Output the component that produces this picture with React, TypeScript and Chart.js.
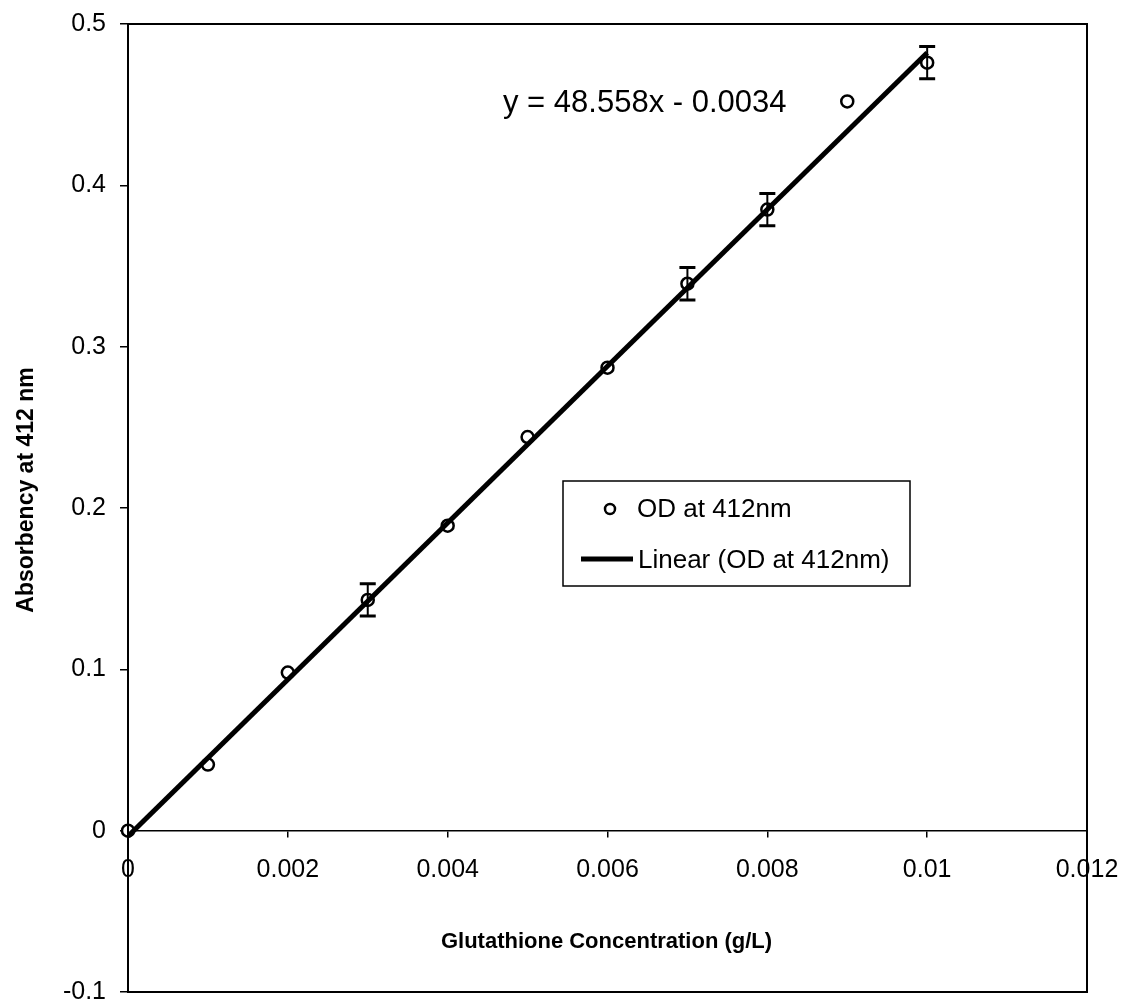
import { useEffect, useRef } from "react";
import { Chart, registerables } from "chart.js";

Chart.register(...registerables);

// Glutathione standard curve (absorbance read at 412 nm)
const concentration = [0, 0.001, 0.002, 0.003, 0.004, 0.005, 0.006, 0.007, 0.008, 0.009, 0.01];
const absorbance = [0, 0.041, 0.098, 0.143, 0.189, 0.244, 0.287, 0.339, 0.385, 0.452, 0.476];
const absorbanceError = [0, 0, 0, 0.01, 0, 0, 0, 0.01, 0.01, 0, 0.01];

// Least-squares fit shown on the chart
const slope = 48.558;
const intercept = -0.0034;
const fitRange = [0, 0.01];

const xTickValues = [0, 0.002, 0.004, 0.006, 0.008, 0.01, 0.012];
const xTickLabels = ["0", "0.002", "0.004", "0.006", "0.008", "0.01", "0.012"];
const yTickValues = [-0.1, 0, 0.1, 0.2, 0.3, 0.4, 0.5];
const yTickLabels = ["-0.1", "0", "0.1", "0.2", "0.3", "0.4", "0.5"];

const seriesLabel = "OD at 412nm";
const fitLabel = "Linear (OD at 412nm)";
const equationText = `y = ${slope}x - ${Math.abs(intercept)}`;
const xTitle = "Glutathione Concentration (g/L)";
const yTitle = "Absorbency at 412 nm";

const FONT = "'Liberation Sans', Arial, Helvetica, sans-serif";

const decorations = {
  id: "decorations",
  afterDatasetsDraw(chart: any) {
    const { ctx, scales } = chart;
    const x = scales.x;
    const y = scales.y;
    ctx.save();
    ctx.strokeStyle = "#000";
    concentration.forEach((c, i) => {
      const e = absorbanceError[i];
      if (!e) return;
      const px = x.getPixelForValue(c);
      const top = y.getPixelForValue(absorbance[i] + e);
      const bot = y.getPixelForValue(absorbance[i] - e);
      ctx.lineWidth = 2;
      ctx.beginPath();
      ctx.moveTo(px, top);
      ctx.lineTo(px, bot);
      ctx.stroke();
      ctx.lineWidth = 3;
      ctx.beginPath();
      ctx.moveTo(px - 8, top);
      ctx.lineTo(px + 8, top);
      ctx.moveTo(px - 8, bot);
      ctx.lineTo(px + 8, bot);
      ctx.stroke();
    });
    ctx.restore();
  },
  afterDraw(chart: any) {
    const { ctx, chartArea: a } = chart;
    ctx.save();

    // plot frame
    ctx.strokeStyle = "#000";
    ctx.lineWidth = 2;
    ctx.strokeRect(a.left, a.top, a.right - a.left, a.bottom - a.top);

    // regression equation
    ctx.fillStyle = "#000";
    ctx.font = `31px ${FONT}`;
    ctx.textAlign = "left";
    ctx.textBaseline = "alphabetic";
    ctx.fillText(equationText, a.left + 375, a.top + 88);

    // legend box
    const lx = a.left + 435;
    const ly = a.top + 457;
    const lw = 347;
    const lh = 105;
    ctx.fillStyle = "#fff";
    ctx.fillRect(lx, ly, lw, lh);
    ctx.lineWidth = 1.5;
    ctx.strokeRect(lx, ly, lw, lh);

    ctx.beginPath();
    ctx.arc(lx + 47, ly + 28, 5, 0, Math.PI * 2);
    ctx.lineWidth = 2.5;
    ctx.stroke();

    ctx.lineWidth = 5;
    ctx.beginPath();
    ctx.moveTo(lx + 18, ly + 78);
    ctx.lineTo(lx + 70, ly + 78);
    ctx.stroke();

    ctx.fillStyle = "#000";
    ctx.font = `26px ${FONT}`;
    ctx.textBaseline = "middle";
    ctx.fillText(seriesLabel, lx + 74, ly + 29);
    ctx.fillText(fitLabel, lx + 75, ly + 80);

    // axis titles
    ctx.font = `bold 22px ${FONT}`;
    ctx.textAlign = "center";
    ctx.fillText(xTitle, (a.left + a.right) / 2 - 1, 942);

    ctx.font = `bold 23px ${FONT}`;
    ctx.translate(27, 490);
    ctx.rotate(-Math.PI / 2);
    ctx.fillText(yTitle, 0, 0);

    ctx.restore();
  },
};

export default function App() {
  const canvasRef = useRef<HTMLCanvasElement | null>(null);

  useEffect(() => {
    document.body.style.margin = "0";
    const canvas = canvasRef.current;
    if (!canvas) return;

    const chart = new Chart(canvas, {
      type: "scatter",
      data: {
        datasets: [
          {
            label: fitLabel,
            data: fitRange.map((c) => ({ x: c, y: slope * c + intercept })),
            showLine: true,
            borderColor: "#000",
            borderWidth: 5,
            pointRadius: 0,
            order: 0,
          },
          {
            label: seriesLabel,
            data: concentration.map((c, i) => ({ x: c, y: absorbance[i] })),
            pointStyle: "circle",
            pointRadius: 6,
            pointBorderWidth: 2.5,
            pointBackgroundColor: "#fff",
            pointBorderColor: "#000",
            clip: false,
            order: 1,
          },
        ],
      },
      options: {
        responsive: false,
        animation: false,
        events: [],
        layout: { padding: { top: 24, bottom: 15, left: 0, right: 41 } },
        plugins: {
          legend: { display: false },
          tooltip: { enabled: false },
          title: { display: false },
        },
        scales: {
          x: {
            type: "linear",
            position: { y: 0 },
            min: 0,
            max: 0.012,
            afterBuildTicks: (scale: any) => {
              scale.ticks = xTickValues.map((v) => ({ value: v }));
            },
            afterFit: (scale: any) => {
              scale.paddingLeft = 0;
              scale.paddingRight = 0;
            },
            ticks: {
              color: "#000",
              font: { family: FONT, size: 25 },
              padding: 18,
              maxRotation: 0,
              autoSkip: false,
              callback: (v: any) => {
                const idx = xTickValues.findIndex((t) => Math.abs(t - Number(v)) < 1e-9);
                return idx >= 0 ? xTickLabels[idx] : "";
              },
            },
            grid: {
              drawOnChartArea: false,
              drawTicks: true,
              tickLength: 6,
              color: "#000",
              lineWidth: 1.5,
            },
            border: { display: true, color: "#000", width: 1.5 },
          },
          y: {
            type: "linear",
            position: "left",
            min: -0.1,
            max: 0.5,
            afterBuildTicks: (scale: any) => {
              scale.ticks = yTickValues.map((v) => ({ value: v }));
            },
            afterFit: (scale: any) => {
              scale.width = 128;
              scale.paddingTop = 0;
              scale.paddingBottom = 0;
            },
            ticks: {
              color: "#000",
              font: { family: FONT, size: 25 },
              padding: 14,
              autoSkip: false,
              callback: (v: any) => {
                const idx = yTickValues.findIndex((t) => Math.abs(t - Number(v)) < 1e-9);
                return idx >= 0 ? yTickLabels[idx] : "";
              },
            },
            grid: {
              drawOnChartArea: false,
              drawTicks: true,
              tickLength: 8,
              color: "#000",
              lineWidth: 1.5,
            },
            border: { display: true, color: "#000", width: 2 },
          },
        },
      },
      plugins: [decorations],
    });

    return () => chart.destroy();
  }, []);

  return (
    <div style={{ width: 1128, height: 1007, background: "#fff" }}>
      <canvas
        ref={canvasRef}
        width={1128}
        height={1007}
        style={{ display: "block", width: 1128, height: 1007 }}
      />
    </div>
  );
}
